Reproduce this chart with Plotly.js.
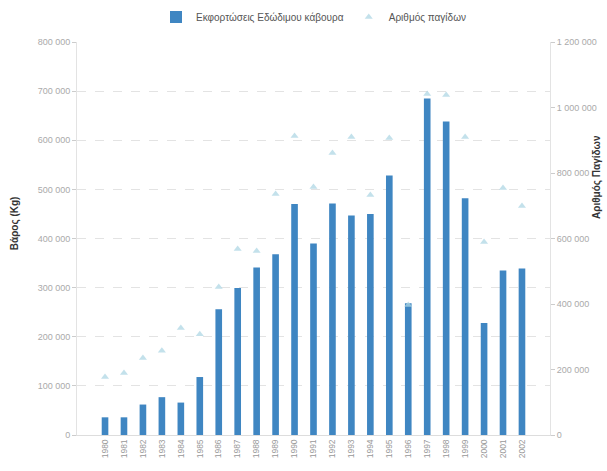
<!DOCTYPE html>
<html>
<head>
<meta charset="utf-8">
<script src="https://cdn.plot.ly/plotly-3.0.1.min.js"></script>
<style>html,body{margin:0;padding:0;background:#fff;}#chart{width:607px;height:471px;}</style>
</head>
<body>
<div id="chart"></div>
<script>
const years = ["1980","1981","1982","1983","1984","1985","1986","1987","1988","1989","1990","1991","1992","1993","1994","1995","1996","1997","1998","1999","2000","2001","2002"];
const landings = [36000,36000,62000,77000,66000,118000,256000,299000,341000,368000,470000,390000,471000,447000,450000,528000,268000,685000,638000,482000,228000,335000,339000];
const traps = [177000,189000,235000,257000,327000,308000,452000,568000,562000,736000,913000,757000,861000,910000,733000,907000,397000,1041000,1038000,910000,589000,754000,699000];
const leftTicks = [0,100000,200000,300000,400000,500000,600000,700000,800000];
const rightTicks = [0,200000,400000,600000,800000,1000000,1200000];
const fmt = v => v.toString().replace(/\B(?=(\d{3})+(?!\d))/g, " ");

const data = [
  {type:"bar", x:years, y:landings, name:"Εκφορτώσεις Εδώδιμου κάβουρα",
   marker:{color:"#3f86c2"}, yaxis:"y"},
  {type:"scatter", mode:"markers", x:years, y:traps, name:"Αριθμός παγίδων",
   marker:{symbol:"triangle-up", size:7, color:"rgba(175,215,228,0.75)"}, yaxis:"y2"}
];
const layout = {
  width:607, height:471,
  margin:{l:77, r:57, t:42, b:36},
  paper_bgcolor:"#fff", plot_bgcolor:"#fff",
  font:{family:"Liberation Sans, Arial, sans-serif", color:"#888"},
  bargap:0.65,
  showlegend:true,
  legend:{orientation:"h", x:0.5, xanchor:"center", y:0.964, yanchor:"middle", yref:"container",
          font:{size:10, color:"#555"}},
  xaxis:{type:"category", tickangle:-90, tickfont:{size:8.5, color:"#999"},
         showgrid:false, showline:true, linecolor:"#ddd", ticks:"", automargin:false},
  yaxis:{range:[0,800000], tickvals:leftTicks, ticktext:leftTicks.map(fmt),
         tickfont:{size:9, color:"#aaa"}, showgrid:true, gridcolor:"#e3e3e3", griddash:"dash",
         showline:true, linecolor:"#e3e3e3", ticks:"outside", ticklen:4, tickcolor:"#ccc",
         zeroline:false, automargin:false},
  yaxis2:{range:[0,1200000], overlaying:"y", side:"right", tickvals:rightTicks, ticktext:rightTicks.map(fmt),
          tickfont:{size:9, color:"#aaa"}, showgrid:false, showline:true, linecolor:"#e3e3e3",
          ticks:"outside", ticklen:4, tickcolor:"#ccc", zeroline:false, automargin:false},
  annotations:[
    {text:"<b>Βάρος (Kg)</b>", xref:"paper", yref:"paper", x:-0.131, y:0.539, textangle:-90,
     showarrow:false, font:{size:10, color:"#333"}, xanchor:"center", yanchor:"middle"},
    {text:"<b>Αριθμός Παγίδων</b>", xref:"paper", yref:"paper", x:1.099, y:0.656, textangle:-90,
     showarrow:false, font:{size:10, color:"#333"}, xanchor:"center", yanchor:"middle"}
  ]
};
Plotly.newPlot("chart", data, layout, {displayModeBar:false, staticPlot:true});
</script>
</body>
</html>
